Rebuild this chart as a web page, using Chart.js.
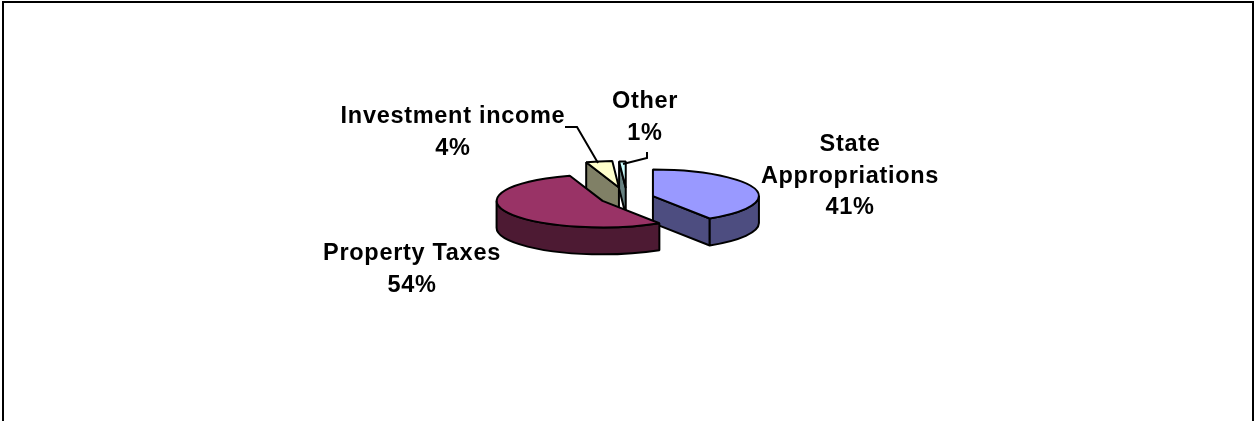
<!DOCTYPE html>
<html>
<head>
<meta charset="utf-8">
<script src="https://cdn.jsdelivr.net/npm/chart.js@4/dist/chart.umd.js"></script>
<style>
html, body { margin: 0; padding: 0; background: #fff; overflow: hidden; }
#frame { position: absolute; left: 2px; top: 1px; width: 1248px; height: 420px; border: solid #000; border-width: 2px 2px 0 2px; }
canvas { position: absolute; left: 0; top: 0; }
</style>
</head>
<body>
<div id="frame"></div>
<canvas id="grafico" width="1254" height="421"></canvas>
<script>
const categories = ['State Appropriations', 'Property Taxes', 'Investment income', 'Other']
const values = [41, 54, 4, 1]

const topColors = ['#9999ff', '#993366', '#ffffcc', '#ccffff']
const wallColors = ['#4d4d80', '#4d1a33', '#808066', '#668080']

// look of the fake 3d pie
const squash = 0.25
const depth = 27
const explode = [27, 27, 43, 40]
const drawOrder = [2, 3, 0, 1]

// label text lines and where they sit, leader is the little line to the slice
const labelLayout = [
    { lines: ['State', 'Appropriations'], x: 850, y: 145 },
    { lines: ['Property Taxes'], x: 412, y: 254 },
    { lines: ['Investment income'], x: 453, y: 117, leader: [[565, 127], [577, 127], [598, 163]] },
    { lines: ['Other'], x: 645, y: 102, leader: [[647, 152], [647, 158], [623, 164]] }
]

const pie3d = {
    id: 'pie3d',
    beforeDatasetsDraw(chart) {
        const ctx = chart.ctx
        const arcs = chart.getDatasetMeta(0).data
        ctx.save()
        ctx.lineWidth = 2
        ctx.strokeStyle = '#000'
        ctx.lineJoin = 'bevel'
        drawOrder.forEach(i => drawSlice(ctx, arcs[i], i))
        ctx.restore()
        return false
    },
    afterDraw(chart) {
        const ctx = chart.ctx
        ctx.save()
        ctx.fillStyle = '#000'
        ctx.font = 'bold 23.5px "Liberation Sans"'
        ctx.letterSpacing = '0.7px'
        ctx.textAlign = 'center'
        ctx.textBaseline = 'middle'
        ctx.lineWidth = 2
        labelLayout.forEach((l, i) => {
            const lines = l.lines.concat(values[i] + '%')
            lines.forEach((t, n) => ctx.fillText(t, l.x, l.y + n * 31.5))
            if (l.leader) {
                ctx.beginPath()
                l.leader.forEach((p, n) => n ? ctx.lineTo(p[0], p[1]) : ctx.moveTo(p[0], p[1]))
                ctx.stroke()
            }
        })
        ctx.restore()
    }
}

function drawSlice(ctx, arc, i) {
    const { x, y, startAngle, endAngle, outerRadius } = arc.getProps(['x', 'y', 'startAngle', 'endAngle', 'outerRadius'], true)
    const mid = (startAngle + endAngle) / 2
    const cx = x + Math.cos(mid) * explode[i]
    const cy = y + Math.sin(mid) * explode[i] * squash
    const ry = outerRadius * squash
    const rim = a => [cx + Math.cos(a) * outerRadius, cy + Math.sin(a) * ry]

    // flat cut faces, only the ones turned to the viewer
    const face = a => {
        const p = rim(a)
        ctx.beginPath()
        ctx.moveTo(cx, cy)
        ctx.lineTo(p[0], p[1])
        ctx.lineTo(p[0], p[1] + depth)
        ctx.lineTo(cx, cy + depth)
        ctx.closePath()
        ctx.fillStyle = wallColors[i]
        ctx.fill()
        ctx.stroke()
    }
    if (-Math.cos(startAngle) > 0.001) face(startAngle)
    if (Math.cos(endAngle) > 0.001) face(endAngle)

    // outer wall, front half of the ellipse only
    const a1 = Math.max(startAngle, 0)
    const a2 = Math.min(endAngle, Math.PI)
    if (a2 > a1) {
        ctx.beginPath()
        ctx.ellipse(cx, cy, outerRadius, ry, 0, a1, a2)
        ctx.ellipse(cx, cy + depth, outerRadius, ry, 0, a2, a1, true)
        ctx.closePath()
        ctx.fillStyle = wallColors[i]
        ctx.fill()
        ctx.stroke()
    }

    // top of the slice is the chart's own arc, flattened and moved out
    ctx.save()
    ctx.translate(cx - x, cy)
    ctx.scale(1, squash)
    ctx.translate(0, -y)
    arc.draw(ctx)
    ctx.restore()

    ctx.beginPath()
    ctx.moveTo(cx, cy)
    ctx.ellipse(cx, cy, outerRadius, ry, 0, startAngle, endAngle)
    ctx.closePath()
    ctx.stroke()
}

new Chart(document.getElementById('grafico'), {
    type: 'pie',
    data: {
        labels: categories,
        datasets: [{
            data: values,
            backgroundColor: topColors,
            borderWidth: 0
        }]
    },
    options: {
        responsive: false,
        animation: false,
        radius: 106,
        layout: { padding: { bottom: 25 } },
        plugins: { legend: { display: false }, tooltip: { enabled: false } }
    },
    plugins: [pie3d]
})
</script>
</body>
</html>
